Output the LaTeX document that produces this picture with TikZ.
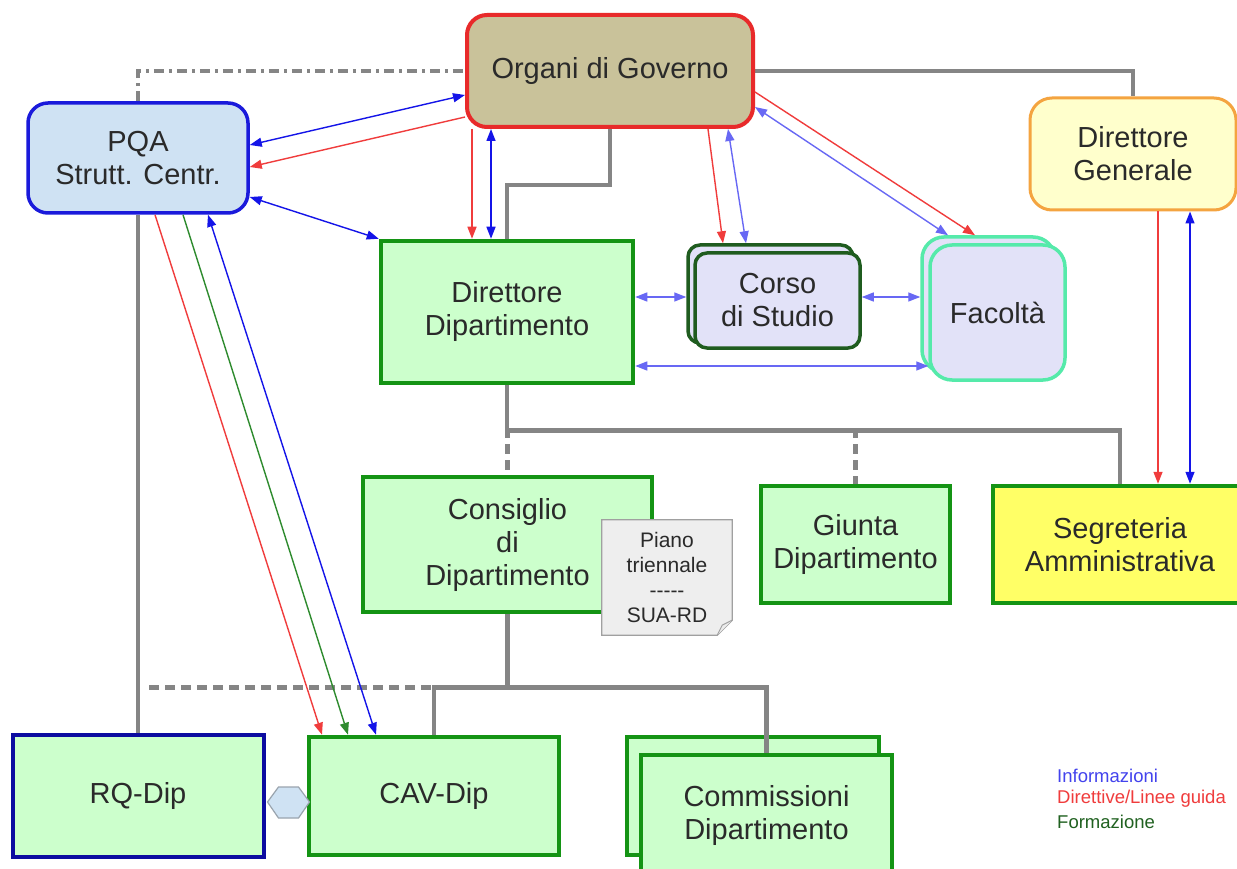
\documentclass[tikz,border=0pt]{standalone}
\usepackage{fontspec}
\setmainfont{Liberation Sans}
\usetikzlibrary{arrows.meta,calc}
\pgfdeclarelayer{bg}
\pgfsetlayers{bg,main}
\definecolor{txt}{HTML}{2A2A2A}
\definecolor{orgfill}{HTML}{C9C29A}
\definecolor{orgline}{HTML}{E82A2A}
\definecolor{pqafill}{HTML}{CFE2F3}
\definecolor{pqaline}{HTML}{1A1ADB}
\definecolor{dgfill}{HTML}{FFFFCC}
\definecolor{dgline}{HTML}{F4A440}
\definecolor{gfill}{HTML}{CCFFCC}
\definecolor{gline}{HTML}{149414}
\definecolor{lav}{HTML}{E2E2F8}
\definecolor{csline}{HTML}{1F5C1F}
\definecolor{facline}{HTML}{55EAAA}
\definecolor{segfill}{HTML}{FFFF66}
\definecolor{rqline}{HTML}{0C0CA0}
\definecolor{conn}{HTML}{858585}
\definecolor{ared}{HTML}{F03C3C}
\definecolor{ablue}{HTML}{1414E8}
\definecolor{lblue}{HTML}{6868F4}
\definecolor{agreen}{HTML}{2E8B2E}
\definecolor{notefill}{HTML}{EEEEEE}
\definecolor{noteline}{HTML}{A0A0A0}
\definecolor{hexline}{HTML}{9AA4AE}
\begin{document}
\begin{tikzpicture}[x=1pt,y=-1pt,
  box/.style={draw, align=center, text=txt, font=\fontsize{29}{33}\selectfont, inner sep=0pt},
  gbox/.style={box, fill=gfill, draw=gline, line width=4.5pt},
  conline/.style={draw=conn, line width=4.8pt},
  condash/.style={conline, dash pattern=on 10pt off 6pt},
  condot/.style={draw=conn, line width=3.5pt, dash pattern=on 10pt off 5pt on 3pt off 5pt},
  tip/.tip={Triangle[length=12pt,width=9pt]},
  arr/.style={line width=1.4pt, -tip},
  darr/.style={line width=1.4pt, tip-tip},
  leg/.style={anchor=west, inner sep=0pt, font=\fontsize{18.5}{21}\selectfont}
]
\useasboundingbox (0,0) rectangle (1237,869);
\clip (0,0) rectangle (1237,869);
\begin{pgfonlayer}{bg}
\fill[white] (0,0) rectangle (1237,869);
\end{pgfonlayer}

% main nodes
\node[box, fill=orgfill, draw=orgline, line width=4pt, rounded corners=20pt,
      minimum width=286pt, minimum height=112pt] (org) at (610,71) {Organi di Governo};
\node[box, fill=pqafill, draw=pqaline, line width=3.5pt, rounded corners=20pt,
      minimum width=220pt, minimum height=110pt] (pqa) at (138,158) {PQA\\Strutt. Centr.};
\node[box, fill=dgfill, draw=dgline, line width=3pt, rounded corners=22pt,
      minimum width=206pt, minimum height=112pt] (dg) at (1133,154) {Direttore\\Generale};
\node[gbox, minimum width=252pt, minimum height=142pt] (dd) at (507,312) {Direttore\\Dipartimento};

\node[box, fill=lav, draw=csline, line width=3.5pt, rounded corners=12pt,
      minimum width=165pt, minimum height=98pt] (csb) at (770.5,294) {};
\node[box, fill=lav, draw=csline, line width=3.5pt, rounded corners=12pt,
      minimum width=165pt, minimum height=95pt] (cs) at (777.5,300.5) {Corso\\di Studio};

\node[box, fill=lav, draw=facline, line width=3.5pt, rounded corners=22pt,
      minimum width=133pt, minimum height=135pt] (facb) at (988.5,304.5) {};
\node[box, fill=lav, draw=facline, line width=3.5pt, rounded corners=22pt,
      minimum width=135pt, minimum height=135pt] (fac) at (997.5,312.5) {Facoltà};

\node[gbox, minimum width=289pt, minimum height=135pt] (cons) at (507.5,544.5) {Consiglio\\di\\Dipartimento};
\node[gbox, minimum width=189pt, minimum height=117pt] (giunta) at (855.5,544.5) {Giunta\\Dipartimento};
\node[gbox, fill=segfill, minimum width=254pt, minimum height=117pt] (seg) at (1120,544.5) {Segreteria\\Amministrativa};

\node[gbox, draw=rqline, line width=4pt, minimum width=251pt, minimum height=122pt] (rq) at (138,796) {RQ-Dip};
\node[gbox, minimum width=250pt, minimum height=118pt] (cav) at (434,796) {CAV-Dip};
\node[gbox, minimum width=252pt, minimum height=118pt] (comb) at (753,796) {};
\coordinate (comtop) at (766.5,755);
\draw[conline] (comtop |- comb.north) -- (comtop);
\node[gbox, minimum width=251pt, minimum height=120pt] (com) at (766.5,815) {Commissioni\\Dipartimento};

% note with dog-ear
\node[minimum width=130pt, minimum height=115pt, inner sep=0pt] (note) at (667,577.5) {};
\draw[fill=notefill, draw=noteline, line width=1.2pt]
  (note.north west) -- (note.north east) -- ([yshift=15pt]note.south east)
  -- ([xshift=-15pt]note.south east) -- (note.south west) -- cycle;
\draw[draw=noteline, fill=white!85!gray, line width=1pt]
  ([yshift=15pt]note.south east) -- ([xshift=-10pt,yshift=10pt]note.south east)
  -- ([xshift=-15pt]note.south east);
\node[align=center, text=txt, font=\fontsize{21}{25}\selectfont, inner sep=0pt] (notetext) at (note.center) {Piano\\triennale\\-{}-{}-{}-{}-\\SUA-RD};

% hexagon between RQ-Dip and CAV-Dip
\draw[fill=pqafill, draw=hexline, line width=1.2pt]
  ([xshift=2pt,yshift=-6pt]rq.east) -- ++(11,-15) -- ++(20,0) -- ++(11,15)
  -- ++(-11,16) -- ++(-20,0) -- cycle;

% legend
\node[leg, text=ablue!80!white] (l1) at (1057,776) {Informazioni};
\node[leg, text=ared] (l2) at (1057,799) {Direttive/Linee guida};
\node[leg, text=agreen!70!black] (l3) at (1057,822) {Formazione};

% grey organisational connectors
\begin{pgfonlayer}{bg}
\draw[conline] (org.east) -| (dg.north);
\draw[conline] (org.south) -- ++(0,56) -| (dd.north);
\draw[conline] (dd.south) -- ++(0,45) -| (seg.north);
\draw[condash] (cons.north |- 0,428) -- (cons.north);
\draw[condash] (giunta.north |- 0,428) -- (giunta.north);
\draw[conline] (pqa.south) -- (rq.north);
\draw[condot] (pqa.north) |- (org.west);
\draw[conline] (cons.south) -- ++(0,73) coordinate (j);
\draw[conline] (cav.north) |- (com.north |- j) -- (com.north);
\draw[condash] ([xshift=11pt]rq.north |- j) -- (cav.north |- j);
\end{pgfonlayer}

% coloured arrows
\draw[darr, ablue] (org.west |- 0,95) -- (pqa.east |- 0,145);
\draw[arr, ared] (org.west |- 0,117) -- (pqa.east |- 0,167);
\draw[darr, ablue] (pqa.east |- 0,197) -- (dd.north west);
\draw[arr, ared] (472,0 |- org.south) -- (472,0 |- dd.north);
\draw[darr, ablue] (491,0 |- org.south) -- (491,0 |- dd.north);
\draw[arr, ared] (708,0 |- org.south) -- (723,0 |- csb.north);
\draw[darr, lblue] (728,0 |- org.south) -- (746,0 |- csb.north);
\draw[darr, lblue] (org.east |- 0,107) -- (948,0 |- facb.north);
\draw[arr, ared] (org.east |- 0,92) -- (975,0 |- facb.north);
\draw[darr, lblue] (dd.east |- 0,297) -- (csb.west |- 0,297);
\draw[darr, lblue] (cs.east |- 0,297) -- (facb.west |- 0,297);
\draw[darr, lblue] (dd.east |- 0,366) -- (fac.west |- 0,366);
\draw[arr, ared] (1158,0 |- dg.south) -- (1158,0 |- seg.north);
\draw[darr, ablue] (1190,0 |- dg.south) -- (1190,0 |- seg.north);
\draw[arr, ared] (155,0 |- pqa.south) -- (322,0 |- cav.north);
\draw[arr, agreen] (183,0 |- pqa.south) -- (348,0 |- cav.north);
\draw[darr, ablue] (208,0 |- pqa.south) -- (376,0 |- cav.north);
\end{tikzpicture}
\end{document}
